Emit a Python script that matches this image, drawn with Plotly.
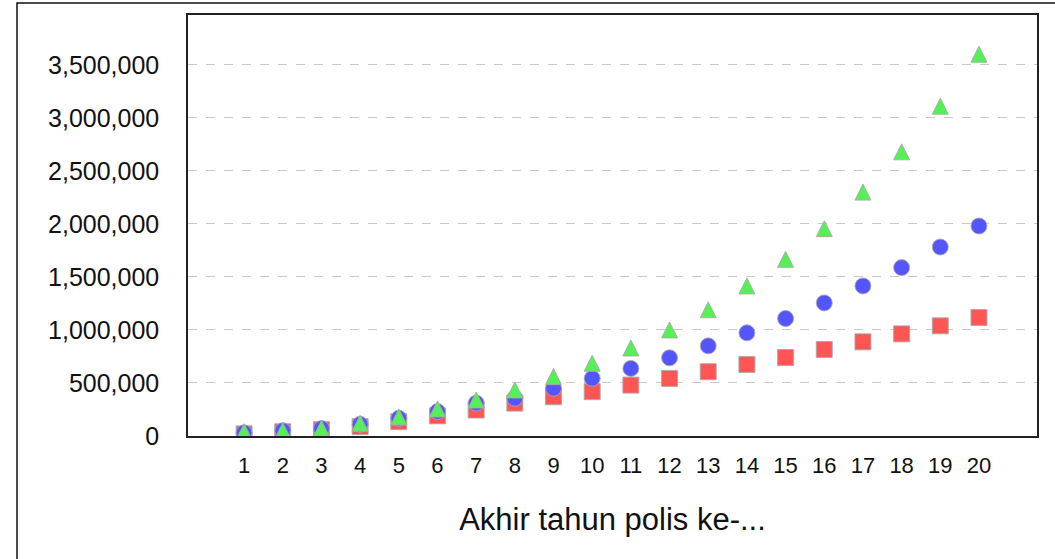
import plotly.graph_objects as go

years = list(range(1, 21))
x_tick_labels = [str(v) for v in years]

red_squares = [0.02e6, 0.04e6, 0.06e6, 0.088e6, 0.135e6, 0.19e6, 0.245e6, 0.31e6, 0.37e6, 0.418e6,
               0.48e6, 0.543e6, 0.606e6, 0.675e6, 0.74e6, 0.816e6, 0.888e6, 0.963e6, 1.039e6, 1.117e6]
blue_circles = [0.03e6, 0.05e6, 0.07e6, 0.11e6, 0.167e6, 0.23e6, 0.31e6, 0.355e6, 0.45e6, 0.544e6,
                0.637e6, 0.737e6, 0.85e6, 0.973e6, 1.108e6, 1.255e6, 1.415e6, 1.588e6, 1.782e6, 1.98e6]
green_triangles = [0.04e6, 0.05e6, 0.07e6, 0.12e6, 0.18e6, 0.255e6, 0.34e6, 0.434e6, 0.56e6, 0.686e6,
                   0.83e6, 1.0e6, 1.19e6, 1.415e6, 1.666e6, 1.955e6, 2.30e6, 2.68e6, 3.11e6, 3.60e6]

y_tick_vals = [0, 500000, 1000000, 1500000, 2000000, 2500000, 3000000, 3500000]
y_tick_text = ["0", "500,000", "1,000,000", "1,500,000", "2,000,000", "2,500,000", "3,000,000", "3,500,000"]

FONT = "Liberation Sans"
outline = dict(color="rgba(170,170,170,0.9)", width=1)

L, R, T, B = 188, 18, 15, 123
W, H = 1055, 559
pw, ph = W - L - R, H - T - B
Y_MAX = 3.97e6
TRI = 16  # triangle marker size (px)
# the arrow-up symbol is anchored at its tip; a hidden overlay axis shifts it
# so the triangle's visual centre sits on the data value
tri_shift = (TRI / 2) / ph * Y_MAX

def px_x(p):
    return (p - L) / pw

def px_y(p):
    return (H - B - p) / ph

fig = go.Figure()
fig.add_trace(go.Scatter(x=years, y=red_squares, mode="markers",
                         marker=dict(symbol="square", size=16, color="#ff5555", line=outline)))
fig.add_trace(go.Scatter(x=years, y=blue_circles, mode="markers",
                         marker=dict(symbol="circle", size=16, color="#5555ff", line=outline)))
fig.add_trace(go.Scatter(x=years, y=green_triangles, mode="markers", yaxis="y2",
                         marker=dict(symbol="arrow-up", size=TRI, color="#55f055", line=outline)))

fig.update_layout(
    width=W, height=H,
    margin=dict(l=L, r=R, t=T, b=B, pad=0, autoexpand=False),
    paper_bgcolor="white", plot_bgcolor="white",
    showlegend=False,
    font=dict(family=FONT, color="#111111", size=20),
    xaxis=dict(
        range=[-0.45, 21.5], tickmode="array", tickvals=years, ticktext=x_tick_labels,
        showgrid=False, zeroline=False, showline=True, linecolor="#222222", linewidth=1.5,
        mirror=True, ticks="", tickfont=dict(size=22, family=FONT), ticklabelstandoff=9,
        automargin=False,
        title=dict(text="Akhir tahun polis ke-...", font=dict(size=31, family=FONT), standoff=31),
    ),
    yaxis=dict(
        range=[0, Y_MAX], tickmode="array", tickvals=y_tick_vals, ticktext=y_tick_text,
        showgrid=True, gridcolor="#c8c8c8", griddash="dash", gridwidth=1,
        zeroline=False, showline=True, linecolor="#222222", linewidth=1.5, mirror=True,
        ticks="", tickfont=dict(size=25, family=FONT), ticklabelstandoff=22,
        automargin=False,
    ),
    yaxis2=dict(
        range=[-tri_shift, Y_MAX - tri_shift], overlaying="y", visible=False,
        showgrid=False, zeroline=False,
    ),
    shapes=[dict(type="rect", xref="paper", yref="paper",
                 x0=px_x(17), x1=px_x(1070), y0=px_y(575), y1=px_y(3),
                 line=dict(color="#111111", width=1.5), fillcolor="rgba(0,0,0,0)", layer="above")],
)

fig.write_html("out.html", config={"displayModeBar": False},
               post_script="document.body.style.margin='0';")
